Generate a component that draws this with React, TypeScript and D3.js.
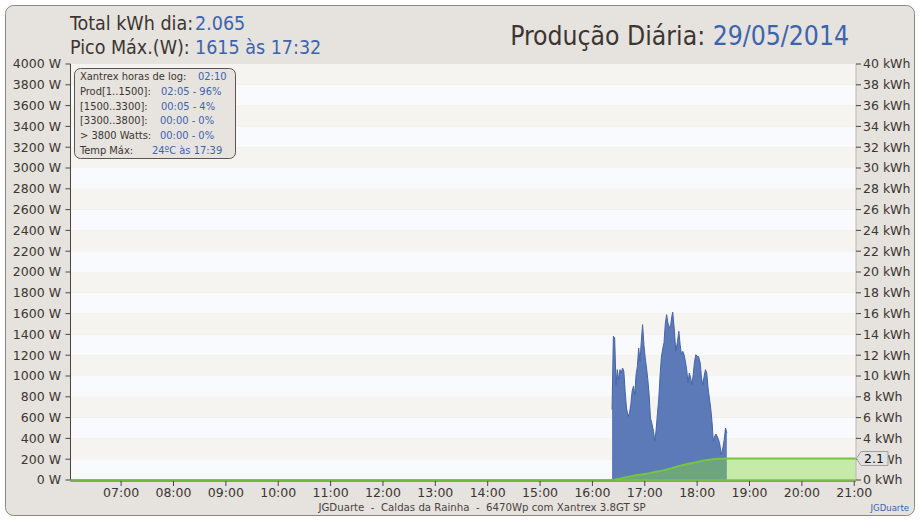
import React from "react";
import * as d3 from "d3";

// ---------- data ----------
const powerTimes = [
  "16:22:30","16:24:00","16:25:30","16:27:00","16:28:30","16:30:00","16:31:30","16:33:00","16:34:30","16:36:00",
  "16:37:30","16:39:00","16:41:00","16:42:30","16:44:00","16:45:30","16:47:00","16:48:30","16:50:00","16:51:30",
  "16:53:00","16:54:30","16:56:00","16:57:30","16:59:00","17:00:30","17:02:00","17:03:30","17:05:00","17:06:30",
  "17:08:00","17:10:00","17:11:30","17:13:00","17:14:30","17:16:00","17:17:30","17:19:00","17:20:30","17:22:00",
  "17:23:30","17:25:00","17:26:30","17:28:00","17:29:30","17:31:00","17:32:00","17:34:00","17:35:30","17:37:30",
  "17:39:00","17:40:30","17:42:00","17:43:30","17:45:00","17:46:30","17:48:00","17:49:30","17:51:00","17:52:30",
  "17:54:00","17:55:30","17:57:00","17:58:30","18:00:00","18:01:30","18:03:30","18:05:00","18:06:30","18:08:00",
  "18:09:30","18:11:00","18:12:30","18:14:00","18:15:30","18:17:00","18:18:30","18:20:00","18:21:30","18:23:00",
  "18:24:30","18:26:00","18:27:30","18:29:30","18:31:00","18:32:30","18:34:00"
];
const powerWatts = [
  676,1382,1365,916,1061,965,1061,1029,1077,1045,
  853,692,612,644,724,853,901,820,1013,1093,
  1269,1141,1333,1494,1301,1173,1077,965,820,596,
  548,468,372,480,640,780,1000,1180,1260,1320,
  1500,1590,1510,1470,1480,1574,1615,1430,1237,1333,
  1430,1301,1205,1237,1205,1141,1061,933,1029,981,
  917,1013,1141,1205,1189,1189,1125,981,917,997,
  1061,1029,885,788,692,564,372,420,442,420,
  388,340,244,308,388,500,452
];
const energyTimes = ["06:02","16:22","16:40","16:50","17:00","17:10","17:20","17:30","17:40","17:50","18:00","18:10","18:20","18:34","21:02"];
const energyKWh = [0, 0, 0.3, 0.45, 0.58, 0.74, 0.9, 1.12, 1.36, 1.56, 1.74, 1.9, 2.01, 2.065, 2.065];

const xTickLabels = ["07:00","08:00","09:00","10:00","11:00","12:00","13:00","14:00","15:00","16:00","17:00","18:00","19:00","20:00","21:00"];
const wattTicks = d3.range(0, 4001, 200);
const kwhTicks = d3.range(0, 41, 2);

const legendLabels = ["Xantrex horas de log:","Prod[1..1500]:","[1500..3300]:","[3300..3800]:","> 3800 Watts:","Temp Máx:"];
const legendValues = ["02:10","02:05 - 96%","00:05 - 4%","00:00 - 0%","00:00 - 0%","24ºC às 17:39"];

const totalKWh = "2.065";
const peakText = "1615 às 17:32";
const titleText = "Produção Diária:";
const dateText = "29/05/2014";
const footerText = "JGDuarte  -  Caldas da Rainha  -  6470Wp com Xantrex 3.8GT SP";
const lastLabel = "2.1";

// ---------- helpers ----------
const toMin = (s: string) => {
  const p = s.split(":").map(Number);
  return p[0] * 60 + p[1] + (p[2] || 0) / 60;
};

const COND = "'DejaVu Sans Condensed', 'DejaVu Sans', sans-serif";
const NORM = "'DejaVu Sans', sans-serif";
const BLUE_TXT = "#3c64ae";
const DARK_TXT = "#3b3631";

export default function App() {
  const W = 920, H = 520;
  const left = 70.5, right = 856, top = 64, bottom = 480;
  const x = d3.scaleLinear().domain([toMin("06:02"), toMin("21:02")]).range([left, right]);
  const yW = d3.scaleLinear().domain([0, 4000]).range([bottom, top]);
  const yK = d3.scaleLinear().domain([0, 40]).range([bottom, top]);

  const power = powerTimes.map((t, i) => ({ t: toMin(t), v: powerWatts[i] }));
  const energy = energyTimes.map((t, i) => ({ t: toMin(t), v: energyKWh[i] }));

  const powerArea = d3.area<{ t: number; v: number }>().x(d => x(d.t)).y0(yW(0)).y1(d => yW(d.v))(power) || "";
  const powerLine = d3.line<{ t: number; v: number }>().x(d => x(d.t)).y(d => yW(d.v))(power) || "";
  const energyArea = d3.area<{ t: number; v: number }>().x(d => x(d.t)).y0(yK(0)).y1(d => yK(d.v)).curve(d3.curveMonotoneX)(energy) || "";
  const energyLine = d3.line<{ t: number; v: number }>().x(d => x(d.t)).y(d => yK(d.v)).curve(d3.curveMonotoneX)(energy) || "";

  const bands = wattTicks.slice(0, -1);
  const lastV = energyKWh[energyKWh.length - 1];
  const ly = yK(lastV);

  return (
    <svg width={W} height={H} style={{ position: "absolute", left: 0, top: 0, display: "block" }}>
      <rect x={0} y={0} width={W} height={H} fill="#ffffff" />
      <rect x={5.5} y={5.5} width={909} height={510} rx={8} ry={8} fill="#e6e2de" stroke="#8a8784" strokeWidth={1} />

      {/* bands */}
      {bands.map((b, i) => (
        <rect key={b} x={left} y={yW(b + 200)} width={right - left} height={yW(b) - yW(b + 200)}
          fill={i % 2 === 0 ? "#f9fafd" : "#f6f4f1"} />
      ))}

      {/* power area */}
      <path d={powerArea} fill="#5b7ab7" />
      <path d={powerLine} fill="none" stroke="#4565a8" strokeWidth={1} />

      {/* energy area */}
      <path d={energyArea} fill="#88d640" fillOpacity={0.45} />
      <path d={energyLine} fill="none" stroke="#74c73a" strokeWidth={2} />

      {/* axes */}
      <line x1={left} x2={left} y1={top} y2={bottom} stroke="#4a4440" />
      <line x1={right} x2={right} y1={top} y2={bottom} stroke="#bdb8b3" />
      <line x1={left} x2={right} y1={bottom + 1} y2={bottom + 1} stroke="#4a4440" />
      {wattTicks.map(t => (
        <g key={"w" + t}>
          <line x1={left - 5} x2={left} y1={yW(t)} y2={yW(t)} stroke="#4a4440" />
          <text x={left - 9.5} y={yW(t)} dy="0.35em" textAnchor="end" fontFamily={NORM} fontSize={12.5} fill={DARK_TXT}>{t} W</text>
        </g>
      ))}
      {kwhTicks.map(t => (
        <g key={"k" + t}>
          <line x1={right} x2={right + 5} y1={yK(t)} y2={yK(t)} stroke="#4a4440" />
          <text x={right + 7} y={yK(t)} dy="0.35em" textAnchor="start" fontFamily={NORM} fontSize={12.5} fill={DARK_TXT}>{t} kWh</text>
        </g>
      ))}
      {xTickLabels.map(l => (
        <g key={l}>
          <line x1={x(toMin(l))} x2={x(toMin(l))} y1={bottom + 1} y2={bottom + 6} stroke="#4a4440" />
          <text x={x(toMin(l))} y={bottom + 17} textAnchor="middle" fontFamily={NORM} fontSize={12.5} fill={DARK_TXT}>{l}</text>
        </g>
      ))}
      <line x1={left} x2={right} y1={bottom} y2={bottom} stroke="#74c73a" strokeWidth={1.5} />

      {/* last value callout */}
      <path d={`M${right + 0.5},${ly} L${right + 5},${ly - 7} L${right + 32},${ly - 7} L${right + 32},${ly + 7} L${right + 5},${ly + 7} Z`}
        fill="#e2e2e2" stroke="#a09d9a" />
      <text x={right + 18} y={ly} dy="0.36em" textAnchor="middle" fontFamily={NORM} fontSize={12.5} fill="#111">{lastLabel}</text>

      {/* legend box */}
      <rect x={74.5} y={68.5} width={161} height={90} rx={6} ry={6} fill="#e7e3df" stroke="#5a5550" />
      {legendLabels.map((l, i) => (
        <text key={l} x={80} y={80 + i * 14.8} fontFamily={COND} fontSize={11} fill={DARK_TXT}>{l}</text>
      ))}
      {legendValues.map((v, i) => (
        <text key={"v" + i} x={[198, 161, 161, 160, 160, 152][i]} y={80 + i * 14.8} fontFamily={COND} fontSize={11} fill={BLUE_TXT}>{v}</text>
      ))}

      {/* header */}
      <text x={70} y={30} fontFamily={COND} fontSize={19.5} fill={DARK_TXT}>Total kWh dia:</text>
      <text x={195} y={30} fontFamily={COND} fontSize={19.5} fill={BLUE_TXT}>{totalKWh}</text>
      <text x={70} y={54} fontFamily={COND} fontSize={19.5} fill={DARK_TXT}>Pico Máx.(W):</text>
      <text x={195} y={54} fontFamily={COND} fontSize={19.5} fill={BLUE_TXT}>{peakText}</text>
      <text x={849} y={45} textAnchor="end" fontFamily={COND} fontSize={26.3} fill={DARK_TXT}>
        {titleText} <tspan fill={BLUE_TXT}>{dateText}</tspan>
      </text>

      {/* footer */}
      <text x={482} y={511} textAnchor="middle" fontFamily={NORM} fontSize={10.2} fill="#4a4440" style={{ whiteSpace: "pre" }}>{footerText}</text>
      <text x={909} y={511} textAnchor="end" fontFamily={COND} fontSize={9.5} fill={BLUE_TXT}>JGDuarte</text>
    </svg>
  );
}
